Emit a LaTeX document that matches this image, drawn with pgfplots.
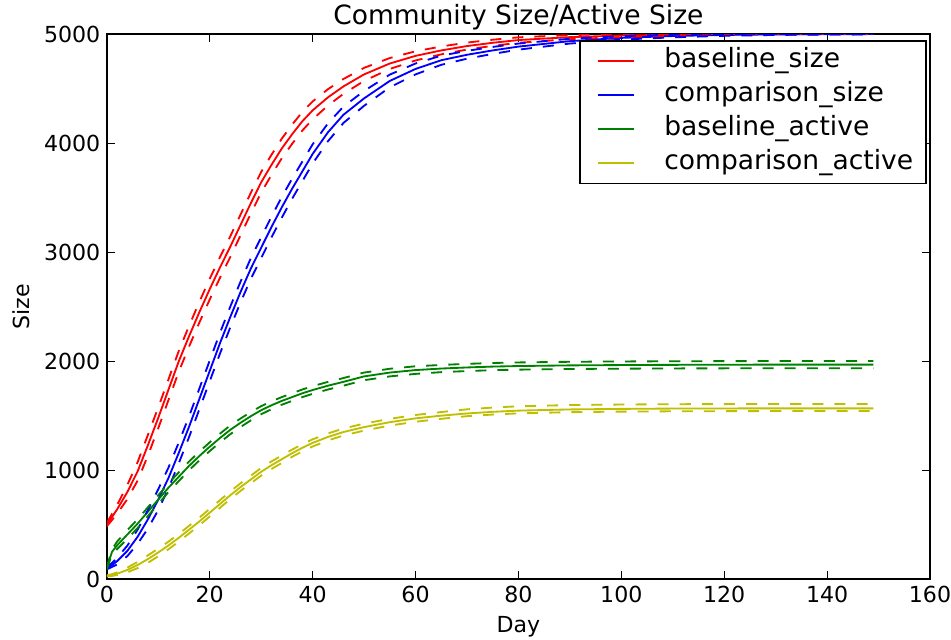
\documentclass[border=0pt]{standalone}
\usepackage{fontspec}
\setmainfont{DejaVu Sans}
\usepackage{pgfplots}
\usepackage{pgfplotstable}
\pgfplotsset{compat=1.18}
\definecolor{mplred}{rgb}{1,0,0}
\definecolor{mplblue}{rgb}{0,0,1}
\definecolor{mplgreen}{rgb}{0,0.5,0}
\definecolor{mplyellow}{rgb}{0.75,0.75,0}

\pgfplotstableread{
x m u l
0 500 515 485
1 570 598 542
2 640 680 600
4 800 865 735
6 990 1075 905
8 1230 1325 1135
10 1480 1575 1385
12 1740 1835 1645
14 2000 2095 1905
16 2230 2325 2135
18 2450 2545 2355
20 2660 2755 2565
22 2860 2955 2765
24 3050 3145 2955
26 3250 3345 3155
28 3450 3545 3355
30 3640 3735 3545
32 3800 3892 3708
34 3950 4040 3860
36 4080 4168 3992
38 4200 4285 4115
40 4300 4382 4218
43 4420 4495 4345
46 4520 4588 4452
50 4630 4690 4570
55 4730 4780 4680
60 4800 4842 4758
65 4850 4886 4814
70 4890 4922 4858
75 4920 4948 4892
80 4945 4970 4920
90 4972 4991 4953
100 4986 5000 4972
110 4993 5000 4983
120 4997 5000 4990
130 4999 5000 4994
140 5000 5000 4997
149 5000 5000 4998
}\baselinesize

\pgfplotstableread{
x m u l
0 100 110 90
1 130 148 112
2 165 195 135
4 260 308 212
6 390 455 325
8 550 635 465
10 730 825 635
12 930 1025 835
14 1160 1255 1065
16 1400 1495 1305
18 1655 1750 1560
20 1910 2005 1815
22 2165 2260 2070
24 2405 2500 2310
26 2635 2730 2540
28 2850 2945 2755
30 3040 3135 2945
32 3230 3325 3135
34 3410 3505 3315
36 3580 3672 3488
38 3740 3830 3650
40 3900 3988 3812
43 4100 4182 4018
46 4260 4335 4185
50 4410 4478 4342
55 4570 4628 4512
60 4680 4730 4630
65 4760 4802 4718
70 4810 4846 4774
75 4850 4882 4818
80 4885 4913 4857
90 4935 4957 4913
100 4965 4981 4949
110 4982 4994 4970
120 4992 5000 4984
130 4997 5000 4992
140 4999 5000 4996
149 5000 5000 4998
}\comparisonsize

\pgfplotstableread{
x m u l
0 100 110 90
1 250 272 228
2 310 345 275
4 410 450 370
6 510 550 470
8 620 660 580
10 730 770 690
12 840 880 800
14 940 980 900
16 1040 1080 1000
18 1130 1170 1090
20 1215 1255 1175
22 1295 1335 1255
24 1370 1410 1330
26 1435 1474 1396
28 1495 1533 1457
30 1550 1587 1513
32 1595 1631 1559
34 1635 1670 1600
36 1670 1705 1635
38 1705 1740 1670
40 1735 1770 1700
43 1775 1810 1740
46 1810 1845 1775
50 1860 1895 1825
55 1895 1930 1860
60 1918 1953 1883
65 1932 1965 1899
70 1942 1975 1909
75 1950 1983 1917
80 1955 1988 1922
90 1961 1994 1928
100 1964 1997 1931
110 1966 1999 1933
120 1967 2000 1934
130 1968 2001 1935
140 1968 2001 1935
149 1968 2001 1935
}\baselineactive

\pgfplotstableread{
x m u l
0 30 35 25
1 38 46 30
2 50 62 38
4 85 107 63
6 130 158 102
8 185 219 151
10 245 280 210
12 310 345 275
14 380 415 345
16 455 490 420
18 530 565 495
20 610 645 575
22 690 725 655
24 770 805 735
26 845 880 810
28 915 950 880
30 985 1020 950
32 1045 1080 1010
34 1100 1134 1066
36 1155 1188 1122
38 1205 1238 1172
40 1250 1283 1217
43 1305 1337 1273
46 1350 1382 1318
50 1395 1427 1363
55 1440 1471 1409
60 1475 1506 1444
65 1500 1533 1471
70 1520 1558 1495
75 1535 1574 1510
80 1546 1586 1521
90 1557 1597 1532
100 1562 1602 1537
110 1565 1605 1540
120 1566 1606 1541
130 1567 1607 1542
140 1567 1607 1542
149 1567 1607 1542
}\comparisonactive

\begin{document}
\begin{tikzpicture}
\begin{axis}[
  scale only axis, width=447pt, height=296pt,
  xmin=0, xmax=160, ymin=0, ymax=5000,
  xtick={0,20,...,160}, ytick={0,1000,...,5000},
  tick align=inside, major tick length=4.5pt,
  every tick/.style={black, line width=0.6pt},
  axis line style={line width=0.8pt},
  tick label style={font=\fontsize{12}{14}\selectfont},
  /pgf/number format/assume math mode=true,
  /pgf/number format/1000 sep={},
  scaled y ticks=false,
  title={Community Size/Active Size},
  title style={at={(rel axis cs:0.5,1.017)}, anchor=base, yshift=-6pt, font=\fontsize{14.4}{17}\selectfont},
  xlabel={Day}, ylabel={Size},
  xlabel style={at={(rel axis cs:0.5,-0.098)}, anchor=base, font=\fontsize{12}{14}\selectfont},
  ylabel style={at={(rel axis cs:-0.094,0.5)}, anchor=base, rotate=0, font=\fontsize{12}{14}\selectfont},
  legend cell align=left,
  legend image code/.code={\path (0pt,0pt); \draw[#1, line width=1pt] (2pt,0pt) -- (22pt,0pt);},
  legend style={at={(rel axis cs:0.996,0.989)}, anchor=north east, draw=black, line width=0.8pt, fill=white,
    font=\fontsize{14.4}{17}\selectfont, inner xsep=7pt, inner ysep=4.5pt, row sep=5.5pt, column sep=15.8pt,
    nodes={inner sep=0pt, text height=10pt, text depth=3pt}},
  every axis plot/.append style={line width=1pt},
  dashstyle/.style={dash pattern=on 6pt off 6pt, forget plot},
]
\addplot[mplred] table[x=x,y=m] {\baselinesize};
\addlegendentry{baseline\_size}
\addplot[mplblue] table[x=x,y=m] {\comparisonsize};
\addlegendentry{comparison\_size}
\addplot[mplgreen] table[x=x,y=m] {\baselineactive};
\addlegendentry{baseline\_active}
\addplot[mplyellow] table[x=x,y=m] {\comparisonactive};
\addlegendentry{comparison\_active}
\addplot[mplred, dashstyle] table[x=x,y=u] {\baselinesize};
\addplot[mplred, dashstyle] table[x=x,y=l] {\baselinesize};
\addplot[mplblue, dashstyle] table[x=x,y=u] {\comparisonsize};
\addplot[mplblue, dashstyle] table[x=x,y=l] {\comparisonsize};
\addplot[mplgreen, dashstyle] table[x=x,y=u] {\baselineactive};
\addplot[mplgreen, dashstyle] table[x=x,y=l] {\baselineactive};
\addplot[mplyellow, dashstyle] table[x=x,y=u] {\comparisonactive};
\addplot[mplyellow, dashstyle] table[x=x,y=l] {\comparisonactive};
\end{axis}
\pgfresetboundingbox
\path[use as bounding box] ([shift={(-58pt,-33pt)}]current axis.south west) rectangle ([shift={(11.4pt,18.5pt)}]current axis.north east);
\end{tikzpicture}
\end{document}
